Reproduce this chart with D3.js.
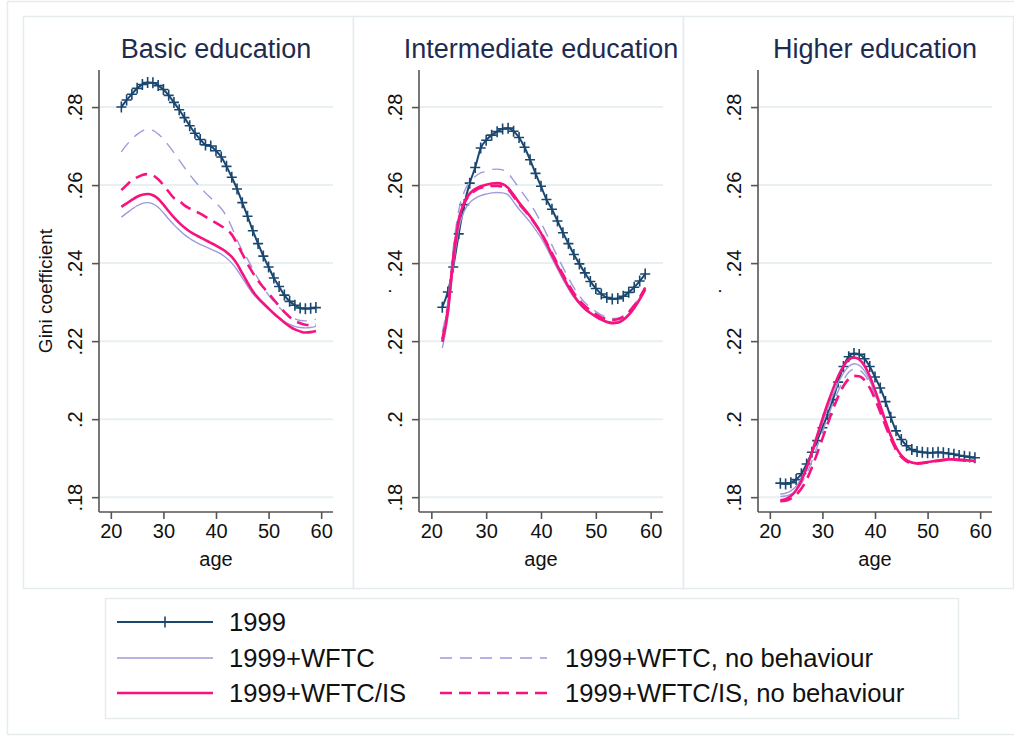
<!DOCTYPE html>
<html>
<head>
<meta charset="utf-8">
<script src="https://cdn.jsdelivr.net/npm/d3@7"></script>
<style>
  body { margin: 0; background: #fff; }
  svg { font-family: "Liberation Sans", Arial, Helvetica, sans-serif; display: block; }
</style>
</head>
<body>
<svg id="chart" width="1014" height="737"></svg>
<script>
// ages on the x axis (one point per year)
const ages = [22, 23, 24, 25, 26, 27, 28, 29, 30, 31, 32, 33, 34, 35, 36, 37, 38, 39, 40,
  41, 42, 43, 44, 45, 46, 47, 48, 49, 50, 51, 52, 53, 54, 55, 56, 57, 58, 59];

const panelTitles = ["Basic education", "Intermediate education", "Higher education"];
const yTitles = ["Gini coefficient", ".", "."];
const yTicks = [0.18, 0.2, 0.22, 0.24, 0.26, 0.28];
const yTickLabels = [".18", ".2", ".22", ".24", ".26", ".28"];
const xTicks = [20, 30, 40, 50, 60];
const seriesNames = ["1999", "1999+WFTC", "1999+WFTC/IS", "1999+WFTC, no behaviour", "1999+WFTC/IS, no behaviour"];

// ---- Basic education
const basic1999 = [.2800, .2818, .2833, .2848, .2858, .2863, .2862, .2855, .2845, .2830, .2812, .2793, .2773,
  .2752, .2733, .2717, .2703, .2700, .2688, .2672, .2648, .2620, .2590, .2555, .2520, .2483, .2450, .2418,
  .2390, .2362, .2340, .2318, .2302, .2292, .2285, .2283, .2284, .2286];
const basicWFTC = [.2518, .2528, .2538, .2547, .2553, .2555, .2552, .2543, .2529, .2513, .2498, .2485, .2473,
  .2463, .2455, .2448, .2442, .2436, .2430, .2423, .2413, .2400, .2383, .2362, .2341, .2322, .2307, .2294,
  .2282, .2270, .2259, .2250, .2243, .2238, .2235, .2234, .2235, .2238];
const basicWFTCIS = [.2544, .2553, .2562, .2570, .2575, .2577, .2574, .2565, .2550, .2533, .2517, .2503, .2491,
  .2481, .2473, .2466, .2459, .2452, .2445, .2437, .2428, .2416, .2398, .2374, .2350, .2328, .2311, .2297,
  .2284, .2271, .2259, .2248, .2238, .2230, .2225, .2222, .2223, .2226];
const basicWFTCnb = [.2685, .2703, .2718, .2730, .2739, .2743, .2740, .2731, .2718, .2701, .2683, .2664, .2645,
  .2627, .2610, .2595, .2580, .2567, .2554, .2540, .2520, .2492, .2460, .2432, .2410, .2385, .2360, .2338,
  .2318, .2302, .2287, .2274, .2264, .2257, .2253, .2252, .2253, .2256];
const basicWFTCISnb = [.2587, .2600, .2612, .2620, .2626, .2628, .2625, .2615, .2600, .2583, .2567, .2560, .2548,
  .2540, .2533, .2527, .2519, .2511, .2503, .2495, .2486, .2473, .2450, .2424, .2398, .2375, .2355, .2338,
  .2322, .2306, .2290, .2275, .2262, .2252, .2246, .2242, .2241, .2242];

// ---- Intermediate education
const inter1999 = [.2287, .2326, .2390, .2475, .2550, .2605, .2645, .2695, .2715, .2728, .2737, .2744, .2746,
  .2738, .2722, .2697, .2665, .2630, .2597, .2563, .2538, .2508, .2478, .2450, .2422, .2398, .2375, .2353,
  .2335, .2321, .2312, .2308, .2309, .2315, .2325, .2338, .2354, .2372];
const interWFTC = [.2182, .2258, .2390, .2488, .2533, .2555, .2566, .2573, .2577, .2580, .2581, .2580, .2575,
  .2557, .2538, .2522, .2505, .2486, .2465, .2440, .2412, .2385, .2358, .2334, .2312, .2295, .2281, .2271,
  .2263, .2256, .2251, .2249, .2250, .2257, .2270, .2288, .2310, .2334];
const interWFTCIS = [.2198, .2275, .2410, .2510, .2555, .2578, .2590, .2597, .2601, .2604, .2605, .2603, .2593,
  .2575, .2555, .2538, .2520, .2500, .2477, .2450, .2421, .2393, .2366, .2340, .2317, .2298, .2283, .2272,
  .2263, .2255, .2249, .2246, .2247, .2254, .2267, .2285, .2307, .2332];
const interWFTCnb = [.2223, .2300, .2440, .2535, .2583, .2608, .2622, .2631, .2636, .2640, .2641, .2639, .2630,
  .2612, .2592, .2573, .2553, .2530, .2504, .2475, .2446, .2417, .2389, .2362, .2337, .2316, .2299, .2286,
  .2276, .2267, .2261, .2258, .2259, .2265, .2277, .2294, .2314, .2338];
const interWFTCISnb = [.2205, .2282, .2415, .2510, .2553, .2575, .2586, .2593, .2596, .2598, .2598, .2596, .2589,
  .2571, .2551, .2535, .2518, .2499, .2478, .2453, .2426, .2398, .2371, .2346, .2323, .2305, .2290, .2279,
  .2269, .2261, .2256, .2254, .2256, .2262, .2274, .2291, .2312, .2337];

// ---- Higher education
const high1999 = [.1836, .1834, .1837, .1845, .1860, .1885, .1915, .1945, .1978, .2012, .2050, .2095, .2135,
  .2160, .2168, .2166, .2155, .2135, .2108, .2080, .2045, .2005, .1970, .1948, .1932, .1922, .1917, .1915,
  .1914, .1914, .1915, .1914, .1912, .1910, .1907, .1905, .1903, .1901];
const highWFTC = [.1808, .1810, .1816, .1828, .1848, .1877, .1913, .1952, .1990, .2027, .2062, .2093, .2118,
  .2135, .2142, .2138, .2124, .2099, .2066, .2028, .1990, .1955, .1927, .1907, .1895, .1889, .1887, .1888,
  .1890, .1892, .1894, .1896, .1897, .1897, .1896, .1895, .1894, .1893];
const highWFTCIS = [.1792, .1795, .1803, .1818, .1842, .1875, .1915, .1958, .2000, .2040, .2077, .2110, .2136,
  .2152, .2158, .2153, .2137, .2110, .2075, .2035, .1995, .1958, .1928, .1907, .1895, .1889, .1887, .1888,
  .1890, .1892, .1894, .1896, .1897, .1897, .1896, .1895, .1894, .1893];
const highWFTCnb = [.1802, .1803, .1808, .1818, .1835, .1860, .1893, .1930, .1968, .2005, .2040, .2072, .2100,
  .2120, .2128, .2126, .2114, .2092, .2062, .2026, .1990, .1955, .1926, .1906, .1894, .1888, .1886, .1887,
  .1889, .1891, .1893, .1895, .1896, .1896, .1895, .1894, .1893, .1892];
const highWFTCISnb = [.1790, .1791, .1796, .1806, .1822, .1845, .1876, .1912, .1950, .1988, .2025, .2058, .2085,
  .2103, .2111, .2110, .2100, .2080, .2052, .2018, .1983, .1950, .1922, .1903, .1892, .1887, .1886, .1887,
  .1889, .1891, .1893, .1895, .1896, .1896, .1895, .1894, .1893, .1892];

// series per panel, in seriesNames order
const panelSeries = [
  [basic1999, basicWFTC, basicWFTCIS, basicWFTCnb, basicWFTCISnb],
  [inter1999, interWFTC, interWFTCIS, interWFTCnb, interWFTCISnb],
  [high1999, highWFTC, highWFTCIS, highWFTCnb, highWFTCISnb]
];

// look of each series
const navy = "#1a476f", lilac = "#9d9bdb", pink = "#f7137f";
const styles = [
  { color: navy, width: 2, dash: null, marker: true },
  { color: lilac, width: 1.4, dash: null },
  { color: pink, width: 2.6, dash: null },
  { color: lilac, width: 1.4, dash: "12,8" },
  { color: pink, width: 2.6, dash: "12,7" }
];
const drawOrder = [0, 1, 3, 2, 4];

const svg = d3.select("#chart");
const frameColor = "#e4ecee";
const gridColor = "#e9f0f2";
const axisColor = "#555";

svg.append("rect").attr("x", 0).attr("y", 0).attr("width", 1014).attr("height", 737).attr("fill", "#fff");
// outer frame
svg.append("rect").attr("x", 7.5).attr("y", 1.5).attr("width", 1020).attr("height", 733)
  .attr("fill", "none").attr("stroke", frameColor).attr("stroke-width", 1.5);

// panel boxes and plot areas
const panelBoxes = [[23, 353], [353, 683], [683, 1013]];
const plotX = [[99, 333], [419, 663], [758, 992]];
const yTitleX = [52, 391, 721];
const plotTop = 70, plotBottom = 512;

const y = d3.scaleLinear().domain([0.1762, 0.2895]).range([plotBottom, plotTop]);
const plus = "M-5,0H5M0,-5.5V5.5";

panelTitles.forEach((title, p) => {
  const [bx0, bx1] = panelBoxes[p];
  svg.append("rect").attr("x", bx0 + 0.5).attr("y", 16.5).attr("width", bx1 - bx0).attr("height", 572)
    .attr("fill", "#fff").attr("stroke", frameColor).attr("stroke-width", 1.5);

  const [px0, px1] = plotX[p];
  const x = d3.scaleLinear().domain([17.75, 62.25]).range([px0, px1]);
  const g = svg.append("g");

  // grid
  g.selectAll(".grid").data(yTicks).enter().append("line")
    .attr("x1", px0).attr("x2", px1)
    .attr("y1", d => y(d)).attr("y2", d => y(d))
    .attr("stroke", gridColor).attr("stroke-width", 2);

  // y axis
  const yAxis = g.append("g").attr("transform", `translate(${px0},0)`)
    .call(d3.axisLeft(y).tickValues(yTicks).tickSize(7).tickFormat((d, i) => yTickLabels[i]));
  yAxis.select(".domain").attr("stroke", axisColor).attr("stroke-width", 1.6)
    .attr("d", `M0,${plotTop}V${plotBottom}`);
  yAxis.selectAll(".tick line").attr("stroke", axisColor).attr("stroke-width", 1.6);
  yAxis.selectAll(".tick text")
    .attr("x", null).attr("dy", null)
    .attr("transform", "translate(-17,0) rotate(-90)")
    .attr("text-anchor", "middle")
    .attr("font-size", 20).attr("fill", "#111");

  // x axis
  const xAxis = g.append("g").attr("transform", `translate(0,${plotBottom})`)
    .call(d3.axisBottom(x).tickValues(xTicks).tickSize(7));
  xAxis.select(".domain").attr("stroke", axisColor).attr("stroke-width", 1.6)
    .attr("d", `M${px0},0H${px1}`);
  xAxis.selectAll(".tick line").attr("stroke", axisColor).attr("stroke-width", 1.6);
  xAxis.selectAll(".tick text").attr("y", 26).attr("dy", null)
    .attr("font-size", 20).attr("fill", "#111");

  // titles
  g.append("text").attr("x", (px0 + px1) / 2).attr("y", 58)
    .attr("text-anchor", "middle").attr("font-size", 27).attr("fill", "#1e2b50")
    .text(title);
  g.append("text").attr("x", (px0 + px1) / 2).attr("y", 566)
    .attr("text-anchor", "middle").attr("font-size", 20).attr("fill", "#111")
    .text("age");
  g.append("text")
    .attr("transform", `translate(${yTitleX[p]},${(plotTop + plotBottom) / 2}) rotate(-90)`)
    .attr("text-anchor", "middle").attr("font-size", 19).attr("fill", "#111")
    .text(yTitles[p]);

  // lines
  const line = d3.line().x((d, i) => x(ages[i])).y(d => y(d)).curve(d3.curveMonotoneX);
  drawOrder.forEach(s => {
    const st = styles[s];
    const vals = panelSeries[p][s];
    g.append("path").datum(vals)
      .attr("d", line)
      .attr("fill", "none")
      .attr("stroke", st.color)
      .attr("stroke-width", st.width)
      .attr("stroke-dasharray", st.dash)
      .attr("stroke-linejoin", "round");
    if (st.marker) {
      g.selectAll(null).data(vals).enter().append("path")
        .attr("d", plus)
        .attr("transform", (d, i) => `translate(${x(ages[i])},${y(d)})`)
        .attr("stroke", st.color).attr("stroke-width", 1.6).attr("fill", "none");
    }
  });
});

// legend
svg.append("rect").attr("x", 105.5).attr("y", 598.5).attr("width", 853).attr("height", 120)
  .attr("fill", "#fff").attr("stroke", frameColor).attr("stroke-width", 1.5);

const legendCells = [
  { s: 0, x: 117, y: 622 },
  { s: 1, x: 117, y: 658 },
  { s: 3, x: 440, y: 658 },
  { s: 2, x: 117, y: 693 },
  { s: 4, x: 440, y: 693 }
];
const legend = svg.append("g");
legendCells.forEach(c => {
  const st = styles[c.s];
  const len = c.x < 300 ? 96 : 107;
  legend.append("line")
    .attr("x1", c.x).attr("x2", c.x + len).attr("y1", c.y).attr("y2", c.y)
    .attr("stroke", st.color).attr("stroke-width", st.width).attr("stroke-dasharray", st.dash);
  if (st.marker) {
    legend.append("path").attr("d", plus)
      .attr("transform", `translate(${c.x + len / 2},${c.y})`)
      .attr("stroke", st.color).attr("stroke-width", 1.6);
  }
  legend.append("text")
    .attr("x", c.x < 300 ? 229 : 565).attr("y", c.y + 9)
    .attr("font-size", 25.6).attr("fill", "#111")
    .text(seriesNames[c.s]);
});
</script>
</body>
</html>
